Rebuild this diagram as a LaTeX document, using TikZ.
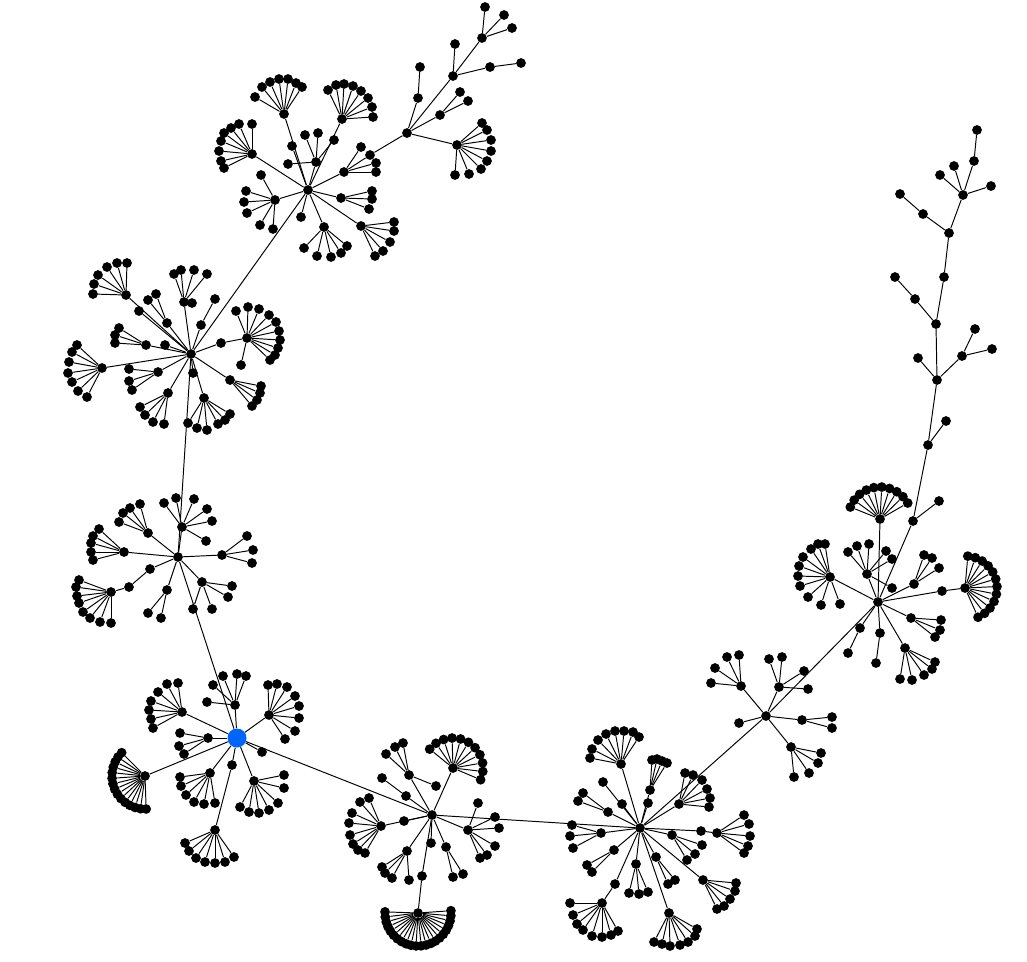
\documentclass[tikz,border=0pt]{standalone}
\usepackage{tikz}
\usetikzlibrary{calc}
\definecolor{rootblue}{RGB}{0,100,255}

% a node hung under a parent
\newcommand{\subhub}[4]{\node[leaf] (#1) at (#3,#4) {}; \draw[link] (#2) -- (#1);}
% leaves at given points
\newcommand{\leafset}[2]{%
  \foreach \lx/\ly [count=\li] in {#2} {
    \node[leaf] (#1-\li) at (\lx,\ly) {};
    \draw[link] (#1) -- (#1-\li);
  }}
% leaves spread on an arc: parent, from, to, count, radius
\newcommand{\leaffan}[5]{%
  \foreach \li in {1,...,#4} {
    \pgfmathsetmacro{\la}{#2+(#3-#2)*(\li-1)/(#4-1)}
    \node[leaf] (#1-\li) at ($(#1)+(\la:#5)$) {};
    \draw[link] (#1) -- (#1-\li);
  }}

\begin{document}
\begin{tikzpicture}[x=0.02cm, y=-0.02cm,
    leaf/.style={circle, fill=black, inner sep=0pt, minimum size=0.195cm},
    root/.style={circle, fill=rootblue, inner sep=0pt, minimum size=0.38cm},
    link/.style={line width=0.55pt}]
  \useasboundingbox (0,0) rectangle (1027,961);

  % main hubs
  \node[leaf] (h1) at (308,190) {};
  \node[leaf] (h2) at (191,354) {};
  \node[leaf] (h3) at (178,557) {};
  \node[root] (h4) at (237,738) {};
  \node[leaf] (h5) at (432,815) {};
  \node[leaf] (h6) at (640,828) {};
  \node[leaf] (h7) at (766,716) {};
  \node[leaf] (h8) at (878,602) {};
  \draw[link] (h1) -- (h2) -- (h3) -- (h4) -- (h5) -- (h6) -- (h7) -- (h8);

  % hub 1
  \subhub{h1a}{h1}{284}{114} \leafset{h1a}{255/97, 262/87, 270/82, 279/79, 288/79, 296/83, 302/87}
  \subhub{h1b}{h1}{342}{119} \leafset{h1b}{328/90, 336/85, 344/84, 353/86, 361/91, 368/98, 372/107, 373/117}
  \subhub{h1c}{h1}{252}{154} \leafset{h1c}{252/124, 239/124, 231/128, 224/133, 221/141, 219/151, 221/161, 224/168}
  \subhub{h1d}{h1}{316}{162} \leafset{h1d}{305/135, 318/133, 288/164, 334/140}
  \subhub{h1e}{h1}{344}{172} \leafset{h1e}{361/147, 376/163, 376/172}
  \subhub{h1f}{h1}{275}{200} \leafset{h1f}{261/175, 246/191, 244/202, 247/213, 260/225, 273/229}
  \subhub{h1g}{h1}{341}{198} \leafset{h1g}{372/191, 372/199, 369/209}
  \subhub{h1h}{h1}{324}{227} \leafset{h1h}{304/248, 317/256, 331/257, 341/253, 347/246}
  \subhub{h1i}{h1}{361}{226} \leafset{h1i}{394/222, 394/231, 390/242, 383/251, 375/256}
  \subhub{h1j}{h1}{292}{146}
  \subhub{h1k}{h1}{301}{217}

  % branch at the top
  \subhub{t1}{h1e}{370}{155}
  \subhub{t2}{t1}{407}{133}
  \subhub{t3}{t2}{457}{145} \leafset{t3}{482/123, 487/130, 491/140, 491/151, 487/161, 481/169, 469/174, 455/175}
  \subhub{t4}{t2}{440}{115} \leafset{t4}{460/92, 468/101}
  \subhub{t5}{t2}{418}{98}  \leafset{t5}{420/67}
  \subhub{t6}{t2}{453}{76}  \leafset{t6}{455/44}
  \subhub{t7}{t6}{490}{67}  \leafset{t7}{521/63}
  \subhub{t8}{t6}{482}{38}  \leafset{t8}{485/7, 504/15, 512/28}

  % hub 2
  \subhub{h2a}{h2}{126}{295} \leafset{h2a}{93/294, 94/284, 98/275, 107/267, 117/263, 127/263}
  \subhub{h2b}{h2}{184}{302} \leafset{h2b}{174/274, 181/270, 194/270, 207/274, 192/303}
  \subhub{h2c}{h2}{201}{325} \leafset{h2c}{215/299}
  \subhub{h2d}{h2}{167}{323} \leafset{h2d}{148/300, 156/294}
  \subhub{h2e}{h2}{146}{345} \leafset{h2e}{119/328, 115/335, 115/343}
  \subhub{h2f}{h2}{102}{368} \leafset{h2f}{77/345, 72/352, 69/362, 68/373, 72/382, 78/391, 87/397}
  \subhub{h2g}{h2}{221}{343}
  \subhub{h2h}{h2g}{247}{338} \leafset{h2h}{236/311, 248/307, 259/309, 269/315, 276/322, 279/331, 280/340, 278/348, 275/355, 270/360, 241/365}
  \subhub{h2i}{h2}{158}{372} \leafset{h2i}{129/369, 129/381, 132/390}
  \subhub{h2j}{h2}{230}{380} \leafset{h2j}{261/386, 260/393, 257/400, 252/406}
  \subhub{h2k}{h2}{168}{393} \leafset{h2k}{140/407, 145/415, 153/422, 164/424}
  \subhub{h2l}{h2}{204}{398} \leafset{h2l}{230/414, 225/420, 218/424, 207/430, 197/428, 188/423}
  \subhub{h2m}{h2}{139}{311}
  \subhub{h2n}{h2}{165}{345}
  \subhub{h2o}{h2}{193}{373}

  % hub 3
  \subhub{h3a}{h3}{182}{527} \leafset{h3a}{164/503, 176/498, 194/499, 207/509, 212/521, 206/541}
  \subhub{h3b}{h3}{148}{533} \leafset{h3b}{140/504, 130/508, 123/513, 119/522}
  \subhub{h3c}{h3}{124}{552} \leafset{h3c}{99/529, 93/536, 91/543, 91/552, 93/560}
  \subhub{h3d}{h3}{222}{555} \leafset{h3d}{247/536, 253/550, 252/563}
  \subhub{h3e}{h3}{150}{569}
  \subhub{h3f}{h3e}{129}{587}
  \subhub{h3g}{h3f}{111}{592} \leafset{h3g}{79/580, 76/587, 77/596, 79/603, 83/612, 90/618, 100/622, 111/623}
  \subhub{h3h}{h3}{167}{590} \leafset{h3h}{148/613, 161/618}
  \subhub{h3i}{h3}{202}{582} \leafset{h3i}{232/586, 228/597, 212/609, 193/609}

  % hub 4 (root)
  \subhub{h4a}{h4}{235}{705} \leafset{h4a}{213/685, 223/676, 237/674, 246/676, 207/702}
  \subhub{h4b}{h4}{269}{715} \leafset{h4b}{268/685, 277/684, 287/687, 295/696, 299/706, 299/718, 295/731, 285/739}
  \subhub{h4c}{h4}{182}{712} \leafset{h4c}{178/683, 167/684, 158/692, 151/701, 149/710, 151/719, 153/728}
  \subhub{h4d}{h4}{208}{738} \leafset{h4d}{180/733, 179/746, 184/754}
  \subhub{h4e}{h4}{145}{776} \leaffan{h4e}{225}{88}{15}{33}
  \subhub{h4f}{h4}{262}{752}
  \subhub{h4g}{h4}{210}{773} \leafset{h4g}{180/777, 181/786, 186/795, 194/802, 204/804, 215/803}
  \subhub{h4h}{h4}{232}{765}
  \subhub{h4i}{h4h}{215}{830} \leafset{h4i}{185/843, 189/851, 196/858, 205/862, 215/863, 225/862, 234/857}
  \subhub{h4j}{h4}{254}{781} \leafset{h4j}{284/775, 284/788, 278/803, 269/810, 259/813, 249/812, 240/807}

  % hub 5
  \subhub{h5a}{h5}{453}{768} \leaffan{h5a}{219}{383}{11}{30}
  \subhub{h5b}{h5}{409}{775} \leafset{h5b}{386/754, 395/747, 403/743, 436/786}
  \subhub{h5c}{h5}{406}{796} \leafset{h5c}{382/778}
  \subhub{h5d}{h5}{381}{826} \leafset{h5d}{369/798, 360/802, 352/813, 349/823, 350/835, 353/844, 358/850, 365/853}
  \subhub{h5e}{h5}{404}{821}
  \subhub{h5f}{h5}{468}{830} \leafset{h5f}{478/803, 495/817, 499/828, 495/846, 487/855, 480/858}
  \subhub{h5g}{h5}{431}{843}
  \subhub{h5h}{h5}{446}{847} \leafset{h5h}{453/877, 463/874}
  \subhub{h5i}{h5}{407}{851} \leafset{h5i}{382/867, 385/873, 392/878, 409/880}
  \subhub{h5j}{h5}{422}{876}
  \subhub{h5k}{h5j}{418}{913} \leaffan{h5k}{182}{-4}{22}{33}

  % hub 6
  \subhub{h6a}{h6}{621}{764} \leafset{h6a}{590/758, 592/749, 598/740, 606/734, 615/731, 624/731, 633/732, 639/737}
  \subhub{h6b}{h6}{650}{790} \leafset{h6b}{652/760, 657/759, 662/761, 667/763}
  \subhub{h6c}{h6}{679}{804} \leafset{h6c}{685/773, 693/775, 702/780, 707/789, 710/798, 709/807}
  \subhub{h6d}{h6}{608}{812} \leafset{h6d}{583/793, 578/801}
  \subhub{h6e}{h6}{601}{833} \leafset{h6e}{572/825, 570/836, 573/848}
  \subhub{h6f}{h6}{672}{835} \leafset{h6f}{702/845, 695/854, 687/860}
  \subhub{h6g}{h6}{701}{831}
  \subhub{h6h}{h6g}{717}{833} \leafset{h6h}{744/815, 749/824, 750/836, 748/846, 744/853}
  \subhub{h6i}{h6}{614}{850} \leafset{h6i}{587/865, 592/872}
  \subhub{h6j}{h6}{636}{864} \leafset{h6j}{629/893, 639/894, 648/892}
  \subhub{h6k}{h6}{656}{857} \leafset{h6k}{668/884, 675/880}
  \subhub{h6l}{h6}{703}{880} \leafset{h6l}{736/883, 735/891, 730/899, 724/906, 717/909}
  \subhub{h6m}{h6}{615}{884}
  \subhub{h6n}{h6m}{602}{903} \leafset{h6n}{570/903, 573/915, 577/924, 583/930, 592/936, 602/937, 611/935, 618/931}
  \subhub{h6o}{h6}{669}{913} \leafset{h6o}{697/929, 695/936, 688/942, 680/945, 670/946, 662/944, 654/942}
  \subhub{h6p}{h6}{603}{782}
  \subhub{h6q}{h6}{622}{804}
  \subhub{h6r}{h6}{648}{803}

  % hub 7
  \subhub{h7a}{h7}{741}{686} \leafset{h7a}{711/683, 715/668, 727/657, 739/655}
  \subhub{h7b}{h7}{779}{687} \leafset{h7b}{769/659, 782/657, 804/671, 808/689}
  \subhub{h7c}{h7}{739}{723}
  \subhub{h7d}{h7}{802}{720} \leafset{h7d}{832/717, 832/728}
  \subhub{h7e}{h7}{791}{747} \leafset{h7e}{821/753, 818/763, 809/773, 794/777}

  % hub 8
  \subhub{h8a}{h8}{880}{519} \leaffan{h8a}{202}{330}{10}{32}
  \subhub{h8b}{h8}{830}{577} \leafset{h8b}{825/544, 818/544, 811/549, 803/557, 799/566, 798/576, 800/586, 808/597, 821/605, 840/604}
  \subhub{h8c}{h8}{867}{574} \leafset{h8c}{848/552, 857/546, 869/544, 886/551, 892/559, 892/588}
  \subhub{h8d}{h8}{914}{584} \leafset{h8d}{924/555, 932/558, 939/568}
  \subhub{h8e}{h8}{942}{591}
  \subhub{h8f}{h8e}{965}{588} \leaffan{h8f}{275}{426}{12}{32}
  \subhub{h8g}{h8}{911}{618} \leafset{h8g}{941/620, 940/630, 935/637}
  \subhub{h8h}{h8}{905}{648} \leafset{h8h}{935/662, 932/669, 924/675, 912/680, 900/679}
  \subhub{h8i}{h8}{880}{633} \leafset{h8i}{876/663}
  \subhub{h8j}{h8}{860}{628} \leafset{h8j}{848/653}

  % chain on the right
  \subhub{r1}{h8}{913}{521} \leafset{r1}{939/501}
  \subhub{r2}{r1}{928}{445} \leafset{r2}{946/421}
  \subhub{r3}{r2}{937}{380} \leafset{r3}{918/358}
  \subhub{r3a}{r3}{962}{356} \leafset{r3a}{975/329, 992/349}
  \subhub{r4}{r3}{936}{324}
  \subhub{r4a}{r4}{915}{299} \leafset{r4a}{895/277}
  \subhub{r5}{r4}{944}{277}
  \subhub{r6}{r5}{949}{233}
  \subhub{r6a}{r6}{923}{214} \leafset{r6a}{900/194}
  \subhub{r7}{r6}{963}{195} \leafset{r7}{940/175, 954/166, 991/186}
  \subhub{r8}{r7}{974}{161} \leafset{r8}{977/130}
\end{tikzpicture}
\end{document}
